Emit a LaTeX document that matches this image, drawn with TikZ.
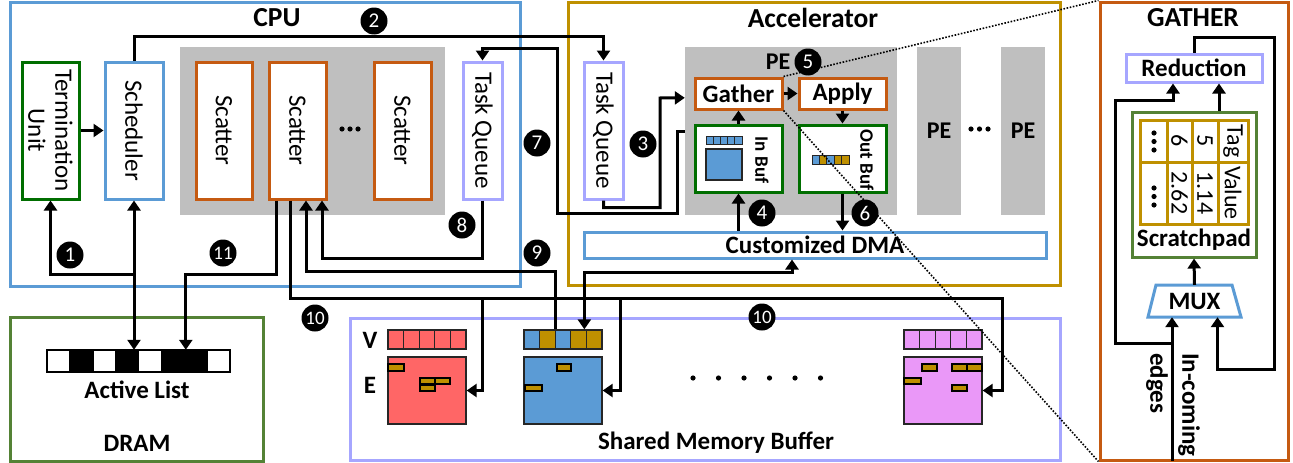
\documentclass[tikz,border=0pt]{standalone}
\usepackage{fontspec}
\setmainfont{Carlito}
\usetikzlibrary{arrows.meta,calc}
\definecolor{cpublue}{HTML}{5B9BD5}
\definecolor{accgold}{HTML}{BF9000}
\definecolor{gorange}{HTML}{C55A11}
\definecolor{dgreen}{HTML}{006E00}
\definecolor{lgreen}{HTML}{548235}
\definecolor{lav}{HTML}{A6A6FF}
\definecolor{pegray}{HTML}{BFBFBF}
\definecolor{vred}{HTML}{FF6666}
\definecolor{vpink}{HTML}{EA98F8}
\begin{document}
\begin{tikzpicture}[x=1pt,y=-1pt,
  box/.style={draw, line width=3pt, fill=white, inner sep=0pt},
  wh/.style 2 args={minimum width=#1pt, minimum height=#2pt},
  lbl/.style={font=\fontsize{25}{27}\selectfont, inner sep=0pt},
  blbl/.style={font=\fontsize{25}{27}\selectfont\bfseries, inner sep=0pt},
  slbl/.style={font=\fontsize{19}{20}\selectfont\bfseries, inner sep=0pt},
  tlbl/.style={font=\fontsize{24}{26}\selectfont, inner sep=0pt},
  title/.style={font=\fontsize{27.5}{30}\selectfont\bfseries, inner sep=0pt},
  wire/.style={line width=3pt},
  arr/.style={line width=3pt,-{Triangle[length=10pt,width=13pt]}},
  biarr/.style={line width=3pt,{Triangle[length=10pt,width=13pt]}-{Triangle[length=10pt,width=13pt]}},
  num/.style={circle, fill=black, text=white, minimum size=27pt, inner sep=0pt, font=\fontsize{21}{21}\selectfont},
  cell/.style={draw=black!85, line width=1.3pt},
  goldr/.style={fill=accgold, draw=black, line width=1.1pt},
  dotline/.style={line width=1.6pt, dash pattern=on 1.6pt off 1.6pt},
]
\useasboundingbox (0,0) rectangle (1293,463);

% ---------- outer boxes ----------
\node[box, draw=cpublue, wh={510}{284}] (cpu) at (265,144) {};
\node[box, draw=accgold, wh={492}{283}] (acc) at (814,143.5) {};
\node[box, draw=gorange, wh={188}{458}] (gat) at (1194,231) {};
\node[box, draw=lgreen, wh={253}{144}] (dram) at (136.5,389) {};
\node[box, draw=lav, wh={710}{142}] (smb) at (705,389) {};

\node[title] (cputitle) at (277,18) {CPU};
\node[title] (acctitle) at (813,18) {Accelerator};
\node[title] (gattitle) at (1193,18) {GATHER};
\node[blbl] (dramtitle) at (137,443) {DRAM};
\node[blbl] (smbtitle) at (716,443) {Shared Memory Buffer};

% ---------- CPU ----------
\node[fill=pegray, wh={265}{168}, inner sep=0pt] (cpugray) at (312.5,131) {};
\node[box, draw=dgreen, wh={57}{137}] (term) at (50.5,130.5) {};
\node[lbl, rotate=-90, align=center] (termt) at (term) {Termination\\Unit};
\node[box, draw=cpublue, wh={58}{137}] (sched) at (134,130.5) {};
\node[lbl, rotate=-90] (schedt) at (sched) {Scheduler};
\node[box, draw=gorange, wh={56}{137}] (sc1) at (224,130.5) {};
\node[lbl, rotate=-90] (sc1t) at (sc1) {Scatter};
\node[box, draw=gorange, wh={57}{137}] (sc2) at (297.5,130.5) {};
\node[lbl, rotate=-90] (sc2t) at (sc2) {Scatter};
\node[box, draw=gorange, wh={57}{137}] (sc3) at (402.5,130.5) {};
\node[lbl, rotate=-90] (sc3t) at (sc3) {Scatter};
\foreach \dx in {-8,0,8} \fill ($(342,129)+(\dx+8,0)$) circle (2.6);
\node[box, draw=lav, wh={39}{137}] (tqc) at (482.5,130.5) {};
\node[lbl, rotate=-90] (tqct) at (tqc) {Task Queue};
\draw[arr] (term.east) -- (sched.west);

% ---------- Accelerator ----------
\node[box, draw=lav, wh={39}{137}] (tqa) at (603.5,130.5) {};
\node[lbl, rotate=-90] (tqat) at (tqa) {Task Queue};
\node[fill=pegray, wh={212}{168}, inner sep=0pt] (pe) at (791,131) {};
\node[font=\fontsize{24}{26}\selectfont\bfseries, inner sep=0pt] (pelbl) at (778,62) {PE};
\node[fill=pegray, wh={44}{168}, inner sep=0pt, font=\fontsize{24}{26}\selectfont\bfseries] (pe2) at (939,131) {PE};
\node[fill=pegray, wh={44}{168}, inner sep=0pt, font=\fontsize{24}{26}\selectfont\bfseries] (pe3) at (1023,131) {PE};
\foreach \xx in {971,979.5,988} \fill (\xx,129) circle (2.6);

\node[box, draw=gorange, wh={87}{31}, blbl] (gatherbox) at (738.5,93.5) {Gather};
\node[box, draw=gorange, wh={87}{31}, blbl] (apply) at (842.5,93.5) {Apply};
\node[box, draw=dgreen, wh={87}{67}] (inbuf) at (738.5,158.5) {};
\node[box, draw=dgreen, wh={87}{67}] (outbuf) at (842.5,158.5) {};
\node[slbl, rotate=-90] (inbuft) at (762,160) {In Buf};
\node[slbl, rotate=-90] (outbuft) at (867,160) {Out Buf};
\foreach \i in {0,...,4} \draw[cell, line width=1pt, fill=cpublue] (706+\i*7.2,136) rectangle ++(7.2,8);
\draw[cell, line width=1.2pt, fill=cpublue] (706,149) rectangle (742,180);
\foreach \i/\c in {0/cpublue,1/accgold,2/cpublue,3/accgold,4/accgold}
  \draw[cell, line width=1pt, fill=\c] (812+\i*7.4,155) rectangle ++(7.4,9);
\node[box, draw=cpublue, wh={462}{26}, blbl] (dma) at (815,245) {Customized DMA};

\draw[arr] (gatherbox.east) -- (apply.west);
\draw[arr] (inbuf.north) -- (gatherbox.south);
\draw[arr] (apply.south) -- (outbuf.north);
\draw[arr] (dma.north -| inbuf.south) -- (inbuf.south);
\draw[arr] (outbuf.south) -- (outbuf.south |- dma.north);

% ---------- GATHER detail ----------
\node[box, draw=lav, wh={136}{28}, blbl] (reduction) at (1194,68) {Reduction};
\node[box, draw=lgreen, wh={124}{145}] (scratch) at (1194,184.5) {};
\node[blbl] (scratcht) at (1194,240) {Scratchpad};
\draw[accgold, line width=3pt] (1140,120) rectangle (1248,224);
\foreach \xx in {1167,1192,1218} \draw[accgold, line width=3pt] (\xx,120) -- (\xx,224);
\draw[accgold, line width=3pt] (1140,162) -- (1248,162);
\node[tlbl, rotate=-90] (ctag) at (1233,141) {Tag};
\node[tlbl, rotate=-90] (cval) at (1233,193) {Value};
\node[tlbl, rotate=-90] (c5) at (1205,141) {5};
\node[tlbl, rotate=-90] (c114) at (1205,193) {1.14};
\node[tlbl, rotate=-90] (c6) at (1179.5,141) {6};
\node[tlbl, rotate=-90] (c262) at (1179.5,193) {2.62};
\foreach \yy in {133,141.5,150,188,196.5,205} \fill (1154,\yy) circle (2.6);
\draw[cpublue, line width=3pt, fill=white] (1156,285) -- (1232,285) -- (1241,317) -- (1148,317) -- cycle;
\node[inner sep=0pt, wh={93}{32}, blbl] (mux) at (1194.5,301) {MUX};
\node[blbl, rotate=-90, anchor=west] (incoming) at (1189,353) {In-coming};
\node[blbl, rotate=-90, anchor=west] (edges) at (1157,353) {edges};

\draw[arr] (mux.north) -- (scratch.south);
\draw[arr] ($(scratch.north)+(25,0)$) -- ($(reduction.south)+(25,0)$);
\draw[arr] (reduction.north) -- ++(0,-15) -| (1274,369) -| ($(mux.south)+(23,0)$);
\coordinate (inbot) at (1172,461);
\draw[arr] (inbot) -- ($(mux.south)+(-22.5,0)$);
\coordinate (jin) at (1172,343);
\draw[arr] (jin) -- (1115,343) -- (1115,100) -| ($(reduction.south)+(-21,0)$);

% ---------- DRAM ----------
\node[inner sep=0pt, wh={183}{22}] (alist) at (138.5,361) {};
\foreach \i/\c in {0/white,1/black,2/white,3/black,4/white,5/black,6/black,7/white}
  \draw[fill=\c, draw=black, line width=1.6pt] (47+\i*22.875,350) rectangle ++(22.875,22);
\node[blbl] (alistt) at (137,390) {Active List};

% ---------- Shared memory ----------
\node[blbl] (vlbl) at (370,340) {V};
\node[blbl] (elbl) at (370,385) {E};
\node[cell, fill=vred, wh={78}{19}, inner sep=0pt] (rv) at (427,339.5) {};
\node[cell, fill=cpublue, wh={78}{19}, inner sep=0pt] (bv) at (563,339.5) {};
\node[cell, fill=vpink, wh={78}{19}, inner sep=0pt] (pv) at (943,339.5) {};
\foreach \i in {0,...,4} {
  \draw[cell, fill=vred] (388+\i*15.6,330) rectangle ++(15.6,19);
  \draw[cell, fill=vpink] (904+\i*15.6,330) rectangle ++(15.6,19);
}
\foreach \i/\c in {0/cpublue,1/accgold,2/cpublue,3/accgold,4/accgold}
  \draw[cell, fill=\c] (524+\i*15.6,330) rectangle ++(15.6,19);
\node[cell, fill=vred, wh={78}{67}, inner sep=0pt] (rdE) at (427,390.5) {};
\node[cell, fill=cpublue, wh={78}{67}, inner sep=0pt] (blE) at (563,390.5) {};
\node[cell, fill=vpink, wh={78}{67}, inner sep=0pt] (pkE) at (943,390.5) {};
\draw[goldr] (388,364) rectangle (404,371);
\draw[goldr] (420,378) rectangle (435,384);
\draw[goldr] (435,378) rectangle (450,384);
\draw[goldr] (420,385) rectangle (435,391);
\draw[goldr] (557,364) rectangle (571,371);
\draw[goldr] (525,385) rectangle (542,391);
\draw[goldr] (922,364) rectangle (937,371);
\draw[goldr] (952,364) rectangle (967,371);
\draw[goldr] (967,364) rectangle (982,371);
\draw[goldr] (904,378) rectangle (921,384);
\draw[goldr] (952,385) rectangle (967,391);
\foreach \xx in {693,718.5,744,769.5,795,820.5} \fill (\xx,378) circle (2.6);

% ---------- connectors ----------
% 1
\coordinate (j1) at (134,274);
\draw[biarr] (sched.south) -- (sched.south |- alist.north);
\draw[arr] (j1) -| (term.south);
% 11
\draw[arr] ($(sc2.south)+(-21.5,0)$) -- ++(0,74) -| ($(alist.north west)+(139,0)$);
% 8
\draw[arr] (tqc.south) -- ++(0,58) -| ($(sc2.south)+(24.5,0)$);
% 9
\draw[arr] ($(bv.north west)+(32,0)$) -- ++(0,-58) -| ($(sc2.south)+(8.5,0)$);
% 10
\coordinate (b10) at (1002,298);
\coordinate (b10a) at (482,298);
\coordinate (b10b) at (620,298);
\draw[arr] ($(sc2.south)+(-7.5,0)$) |- (b10) |- (pkE.east);
\draw[arr] (b10a) |- (rdE.east);
\draw[arr] (b10b) |- (blE.east);
% DMA <-> memory
\draw[biarr] ($(bv.north west)+(61,0)$) -- ++(0,-57) -| ($(dma.south)+(-23,0)$);
% 2
\draw[arr] (sched.north) -- ++(0,-24) -| (tqa.north);
% 7
\draw[arr] ($(pe.north west)+(0,85)$) -- ++(-7,0) -- ++(0,82) -| (557,48) -| (tqc.north);
% 3
\draw[arr] (tqa.south) -- ++(0,7) -| (660,98) -- ($(pe.north west)+(0,51)$);

% ---------- step numbers ----------
\node[num] (n1) at (70,255) {1};
\node[num] (n2) at (374,21) {2};
\node[num] (n3) at (643,144) {3};
\node[num] (n4) at (762,213) {4};
\node[num] (n5) at (808,62) {5};
\node[num] (n6) at (865,213) {6};
\node[num] (n7) at (537,143) {7};
\node[num] (n8) at (462,225) {8};
\node[num] (n9) at (537,253) {9};
\node[num, font=\fontsize{19}{19}\selectfont] (n10a) at (315,318) {10};
\node[num, font=\fontsize{19}{19}\selectfont] (n10b) at (762,317) {10};
\node[num, font=\fontsize{19}{19}\selectfont] (n11) at (223,253) {11};

% ---------- zoom lines ----------
\draw[dotline] (gatherbox.north east) -- (gat.north west);
\draw[dotline] (gatherbox.south east) -- (gat.south west);
\end{tikzpicture}
\end{document}
